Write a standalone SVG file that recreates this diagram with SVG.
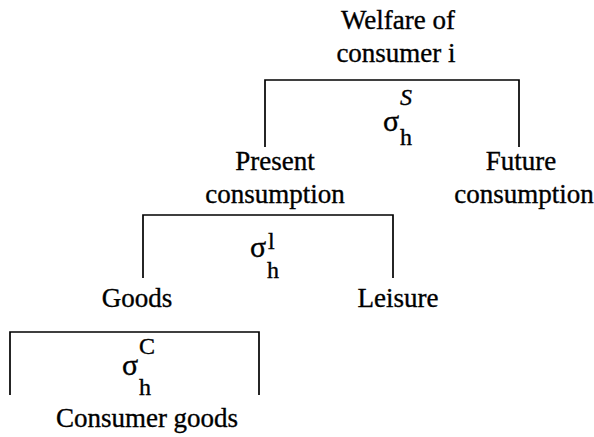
<svg xmlns="http://www.w3.org/2000/svg" width="594" height="437" viewBox="0 0 594 437">
<style>
text{font-family:"Liberation Serif","Times New Roman",serif;fill:#000;stroke:#000;stroke-width:0.35}
.lbl{font-size:27px;text-anchor:middle}
.sig{font-size:30px}
.ss{font-size:24px}
.con{fill:none;stroke:#000;stroke-width:1.7}
</style>
<rect width="594" height="437" fill="#fff"/>
<g id="connectors">
<path class="con" d="M265,147 V80 H519 V147"/>
<path class="con" d="M143,278 V215 H393 V278"/>
<path class="con" d="M10,395 V332 H259 V395"/>
</g>
<g id="welfare">
<text class="lbl" x="398" y="29">Welfare of</text>
<text class="lbl" x="396" y="62">consumer i</text>
</g>
<g id="sigma-s">
<text class="sig" x="383" y="131">σ<tspan class="ss" x="400" y="105" font-style="italic">S</tspan><tspan class="ss" x="400" y="145">h</tspan></text>
</g>
<g id="present">
<text class="lbl" x="275" y="170">Present</text>
<text class="lbl" x="275" y="203">consumption</text>
</g>
<g id="future">
<text class="lbl" x="521" y="170">Future</text>
<text class="lbl" x="524" y="203">consumption</text>
</g>
<g id="sigma-l">
<text class="sig" x="250" y="257">σ<tspan class="ss" x="268" y="249">l</tspan><tspan class="ss" x="267" y="278">h</tspan></text>
</g>
<g id="goods">
<text class="lbl" x="137" y="307">Goods</text>
</g>
<g id="leisure">
<text class="lbl" x="398" y="307">Leisure</text>
</g>
<g id="sigma-c">
<text class="sig" x="122" y="375">σ<tspan class="ss" x="139" y="354">C</tspan><tspan class="ss" x="139" y="395">h</tspan></text>
</g>
<g id="consumer-goods">
<text class="lbl" x="147" y="427">Consumer goods</text>
</g>
</svg>
